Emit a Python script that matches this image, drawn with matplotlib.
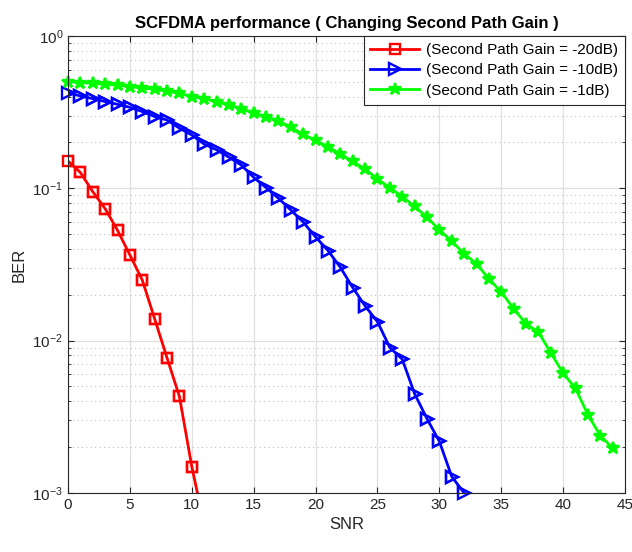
import matplotlib
matplotlib.use("Agg")
import matplotlib.pyplot as plt
import numpy as np
from matplotlib.ticker import LogLocator, NullFormatter

plt.rcParams['font.family'] = ['Liberation Sans', 'DejaVu Sans']
plt.rcParams['mathtext.fontset'] = 'custom'
plt.rcParams['mathtext.rm'] = 'Liberation Sans'
plt.rcParams['mathtext.default'] = 'regular'

# BER values
snr_20 = list(range(0, 12))
ber_20 = [0.151, 0.127, 0.095, 0.0735, 0.053, 0.0365, 0.025, 0.0139, 0.0077,
          0.0043, 0.00149, 0.00062]

snr_10 = list(range(0, 33))
ber_10 = [0.425, 0.404, 0.388, 0.371, 0.356, 0.34, 0.319, 0.296, 0.281, 0.248,
          0.224, 0.195, 0.179, 0.16, 0.142, 0.118, 0.101, 0.086, 0.072, 0.060,
          0.048, 0.039, 0.0303, 0.0223, 0.0169, 0.0133, 0.0090, 0.00755,
          0.00448, 0.00307, 0.00218, 0.00128, 0.001]

snr_1 = list(range(0, 45))
ber_1 = [0.501, 0.494, 0.489, 0.482, 0.475, 0.465, 0.454, 0.447, 0.433, 0.421,
         0.400, 0.386, 0.371, 0.352, 0.334, 0.311, 0.295, 0.277, 0.252, 0.226,
         0.206, 0.188, 0.168, 0.150, 0.134, 0.115, 0.101, 0.0883, 0.076, 0.0646,
         0.0533, 0.0450, 0.0371, 0.0320, 0.0254, 0.0209, 0.0162, 0.0129,
         0.0114, 0.0083, 0.00612, 0.00485, 0.00326, 0.00238, 0.00197]

labels = ['(Second Path Gain = -20dB)', '(Second Path Gain = -10dB)',
          '(Second Path Gain = -1dB)']
colors = ['#ff0000', '#0000ff', '#00ff00']
styles = [dict(marker='s', markersize=6.5, markerfacecolor='none', markeredgewidth=1.7),
          dict(marker='>', markersize=8, markerfacecolor='none', markeredgewidth=1.7),
          dict(marker='*', markersize=9, markeredgewidth=1.6)]

fig = plt.figure(figsize=(6.32, 5.52), dpi=100)
ax = fig.add_axes([0.1076, 0.107, 0.8814, 0.8278])

ymin, ymax = 1e-3, 1
for x, y, c, st, lab in zip([snr_20, snr_10, snr_1], [ber_20, ber_10, ber_1],
                            colors, styles, labels):
    ax.semilogy(x, y, color=c, linewidth=2, label=lab, **st)
    # markers on the frame are drawn whole, like the original
    xs = [a for a, b in zip(x, y) if ymin <= b <= ymax]
    ys = [b for b in y if ymin <= b <= ymax]
    ax.semilogy(xs, ys, color=c, linestyle='none', clip_on=False, **st)

ax.set_xlim(0, 45)
ax.set_ylim(ymin, ymax)
ax.set_xticks(range(0, 46, 5))
ax.yaxis.set_major_locator(LogLocator(base=10, numticks=10))
ax.yaxis.set_minor_locator(LogLocator(base=10, subs=np.arange(2, 10), numticks=10))
ax.yaxis.set_minor_formatter(NullFormatter())

ax.grid(True, which='major', color='#e0e0e0', linewidth=0.9, linestyle='-')
ax.grid(True, which='minor', axis='y', color='#bdbdbd', linewidth=0.8,
        linestyle=(0, (1, 3)))
ax.set_axisbelow(True)

ax.tick_params(which='both', direction='in', top=True, right=True,
               colors='#262626', labelsize=11)
ax.tick_params(which='major', length=4)
ax.tick_params(which='minor', length=2)
for s in ax.spines.values():
    s.set_color('#262626')
    s.set_linewidth(0.8)

ax.set_xlabel('SNR', fontsize=12, color='#262626')
ax.set_ylabel('BER', fontsize=12, color='#262626')
ax.set_title('SCFDMA performance ( Changing Second Path Gain )', fontsize=12,
             fontweight='bold', color='#000000', pad=6)

h, l = ax.get_legend_handles_labels()
leg = ax.legend(h[:3], l[:3], loc='upper right', fontsize=11, handlelength=3.2,
                handletextpad=0.45, fancybox=False, framealpha=1,
                edgecolor='#262626', borderaxespad=0.0, borderpad=0.45,
                labelspacing=0.42)
leg.get_frame().set_linewidth(0.8)

fig.savefig('out.png', dpi=100)
